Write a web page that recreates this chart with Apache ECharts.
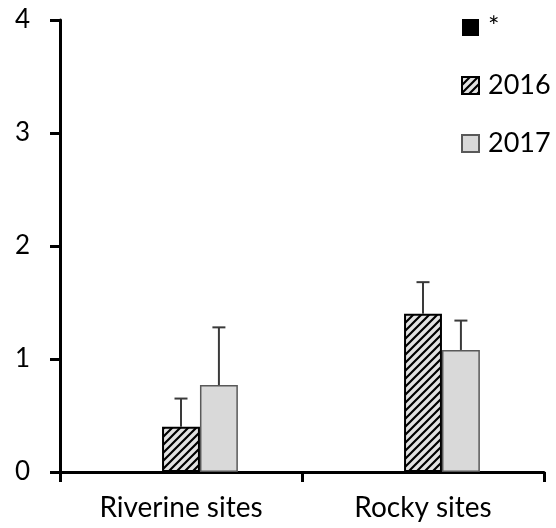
<!DOCTYPE html>
<html><head><meta charset="utf-8">
<script src="https://cdn.jsdelivr.net/npm/echarts@6/dist/echarts.min.js"></script>
<style>html,body{margin:0;padding:0;background:#fff}#c{width:556px;height:528px}</style>
</head><body><div id="c"></div>
<script>
const categories = ['Riverine sites', 'Rocky sites'];
const seriesNames = ['*', '2016', '2017'];
const valsStar = [0, 0];
const vals2016 = [0.40, 1.40];
const vals2017 = [0.77, 1.08];
const err2016 = [0.65, 1.68];
const err2017 = [1.28, 1.34];
const yTicks = [0, 1, 2, 3, 4];

const FONT = 'Lato';

function hatch() {
  const c = document.createElement('canvas');
  c.width = 8; c.height = 8;
  const g = c.getContext('2d');
  g.fillStyle = '#e2e2e2';
  g.fillRect(0, 0, 8, 8);
  g.strokeStyle = '#000';
  g.lineWidth = 2.2;
  g.beginPath();
  g.moveTo(-2, 10); g.lineTo(10, -2);
  g.moveTo(-2, 2); g.lineTo(2, -2);
  g.moveTo(6, 10); g.lineTo(10, 6);
  g.stroke();
  return c;
}
const hatchColor = { image: hatch(), repeat: 'repeat' };

function errSeries(name, upper, vals, idx) {
  return {
    type: 'custom',
    name: name + '_err',
    z: 5,
    silent: true,
    data: categories.map((c, i) => [i, vals[i], upper[i]]),
    renderItem: function (params, api) {
      const ci = api.value(0);
      const base = api.coord([ci, api.value(1)]);
      const top = api.coord([ci, api.value(2)]);
      const band = api.size([1, 0])[0];
      const bw = band * 0.47 / 3;
      const x = base[0] + (idx - 1) * bw;
      const hw = 6.5;
      const st = { stroke: '#3a3a3a', lineWidth: 2 };
      return {
        type: 'group',
        children: [
          { type: 'line', shape: { x1: x, y1: base[1], x2: x, y2: top[1] }, style: st },
          { type: 'line', shape: { x1: x - hw, y1: top[1], x2: x + hw, y2: top[1] }, style: st }
        ]
      };
    }
  };
}

const chart = echarts.init(document.getElementById('c'));
chart.setOption({
  animation: false,
  backgroundColor: '#fff',
  grid: { left: 60, right: 12, top: 20, bottom: 56, containLabel: false },
  legend: {
    data: seriesNames,
    orient: 'vertical',
    left: 461, top: 14,
    padding: 0,
    itemWidth: 17, itemHeight: 17, itemGap: 31,
    icon: 'rect',
    textStyle: { fontFamily: FONT, fontSize: 27, color: '#000', lineHeight: 17, padding: [0, 0, 0, 4] }
  },
  xAxis: {
    type: 'category',
    data: categories,
    axisLine: { lineStyle: { color: '#000', width: 3 } },
    axisTick: { show: true, length: 10, lineStyle: { color: '#000', width: 3 } },
    axisLabel: { fontFamily: FONT, fontSize: 28, color: '#000', margin: 22 },
    splitLine: { show: false }
  },
  yAxis: {
    type: 'value',
    min: 0, max: 4, interval: 1,
    axisLine: { show: true, lineStyle: { color: '#000', width: 3 } },
    axisTick: { show: true, length: 10, lineStyle: { color: '#000', width: 3 } },
    axisLabel: { fontFamily: FONT, fontSize: 26, color: '#000', margin: 30, formatter: v => yTicks.includes(v) ? String(v) : '' },
    splitLine: { show: false }
  },
  series: [
    { type: 'bar', name: seriesNames[0], data: valsStar, barGap: '0%', barCategoryGap: '53%', itemStyle: { color: '#000' } },
    { type: 'bar', name: seriesNames[1], data: vals2016, barGap: '0%', barCategoryGap: '53%', itemStyle: { color: hatchColor, borderColor: '#000', borderWidth: 2 } },
    { type: 'bar', name: seriesNames[2], data: vals2017, barGap: '0%', barCategoryGap: '53%', itemStyle: { color: '#d9d9d9', borderColor: '#595959', borderWidth: 1.5 } },
    errSeries('2016', err2016, vals2016, 1),
    errSeries('2017', err2017, vals2017, 2)
  ]
});
</script></body></html>
